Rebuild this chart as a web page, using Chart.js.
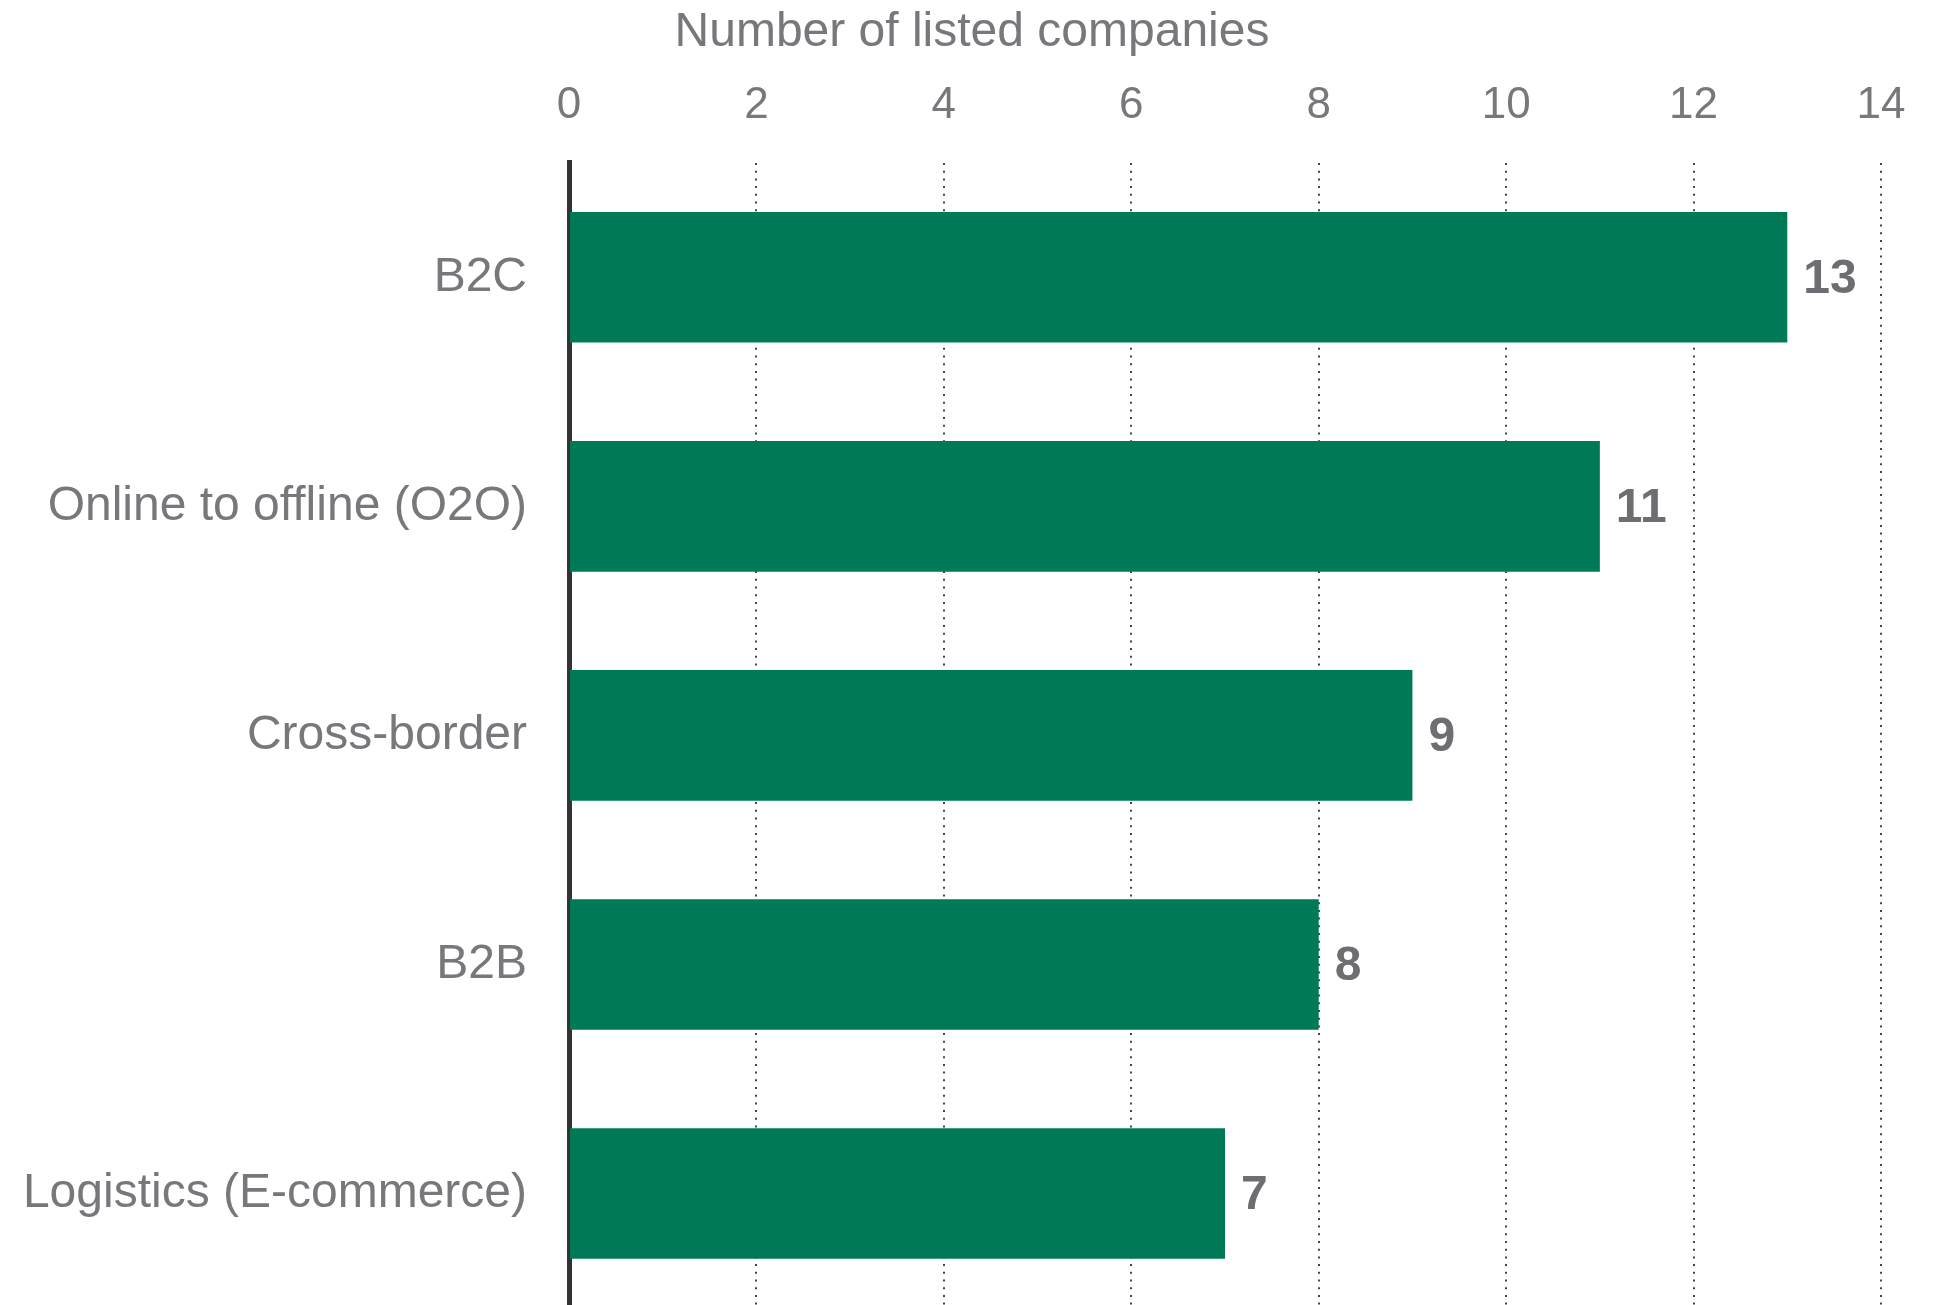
<!DOCTYPE html>
<html>
<head>
<meta charset="utf-8">
<script src="https://cdn.jsdelivr.net/npm/chart.js@4"></script>
<style>
  html, body { margin: 0; padding: 0; background: #ffffff; overflow: hidden; }
  canvas { display: block; }
</style>
</head>
<body>
<canvas id="chartListadas" width="1953" height="1310"></canvas>
<script>
// segmentos de e-commerce e número de empresas listadas
const segmentos = ['B2C', 'Online to offline (O2O)', 'Cross-border', 'B2B', 'Logistics (E-commerce)'];
const empresasListadas = [13, 11, 9, 8, 7];
const ticksEixo = [0, 2, 4, 6, 8, 10, 12, 14];
const tituloEixo = 'Number of listed companies';

const CINZA = '#76787b';
const VERDE = '#007a56';
const FONTE = "'Liberation Sans', Arial, Helvetica, sans-serif";

// título do eixo centrado na largura toda do canvas
const tituloTopo = {
  id: 'tituloTopo',
  afterDraw(chart) {
    const { ctx } = chart;
    ctx.save();
    ctx.font = `48px ${FONTE}`;
    ctx.fillStyle = CINZA;
    ctx.textAlign = 'center';
    ctx.textBaseline = 'alphabetic';
    ctx.fillText(tituloEixo, 972, 46);
    ctx.restore();
  },
};

// escreve o valor em negrito logo depois do fim de cada barra
const valoresNaBarra = {
  id: 'valoresNaBarra',
  afterDatasetsDraw(chart) {
    const { ctx } = chart;
    const meta = chart.getDatasetMeta(0);
    ctx.save();
    ctx.font = `bold 48px ${FONTE}`;
    ctx.fillStyle = '#6d6e71';
    ctx.textAlign = 'left';
    ctx.textBaseline = 'middle';
    meta.data.forEach((bar, i) => {
      ctx.fillText(String(empresasListadas[i]), bar.x + 16, bar.y + 2);
    });
    ctx.restore();
  },
};

new Chart(document.getElementById('chartListadas'), {
  type: 'bar',
  data: {
    labels: segmentos,
    datasets: [{
      data: empresasListadas,
      backgroundColor: VERDE,
      borderWidth: 0,
      categoryPercentage: 1,
      barPercentage: 0.57,
    }],
  },
  options: {
    indexAxis: 'y',
    responsive: false,
    animation: false,
    devicePixelRatio: 1,
    layout: { padding: { left: 0, right: 72, top: 48, bottom: 2 } },
    plugins: {
      legend: { display: false },
      tooltip: { enabled: false },
      title: { display: false },
    },
    scales: {
      x: {
        position: 'top',
        min: 0,
        max: 14,
        afterBuildTicks: (scale) => { scale.ticks = ticksEixo.map((v) => ({ value: v })); },
        grid: {
          color: (c) => (c.tick && c.tick.value === 0 ? 'rgba(0,0,0,0)' : '#444444'),
          lineWidth: 2,
          drawTicks: false,
        },
        border: { display: false, dash: [2, 5.7] },
        ticks: {
          color: CINZA,
          font: { family: FONTE, size: 44 },
          padding: 31,
          maxRotation: 0,
        },
      },
      y: {
        afterFit: (scale) => {
          scale.width = 569;
          scale.paddingTop = 0;
          scale.paddingBottom = 0;
        },
        grid: { display: false, drawTicks: false },
        border: { display: true, color: '#333333', width: 5 },
        ticks: {
          color: CINZA,
          font: { family: FONTE, size: 48 },
          padding: 42,
        },
      },
    },
  },
  plugins: [valoresNaBarra, tituloTopo],
});
</script>
</body>
</html>
